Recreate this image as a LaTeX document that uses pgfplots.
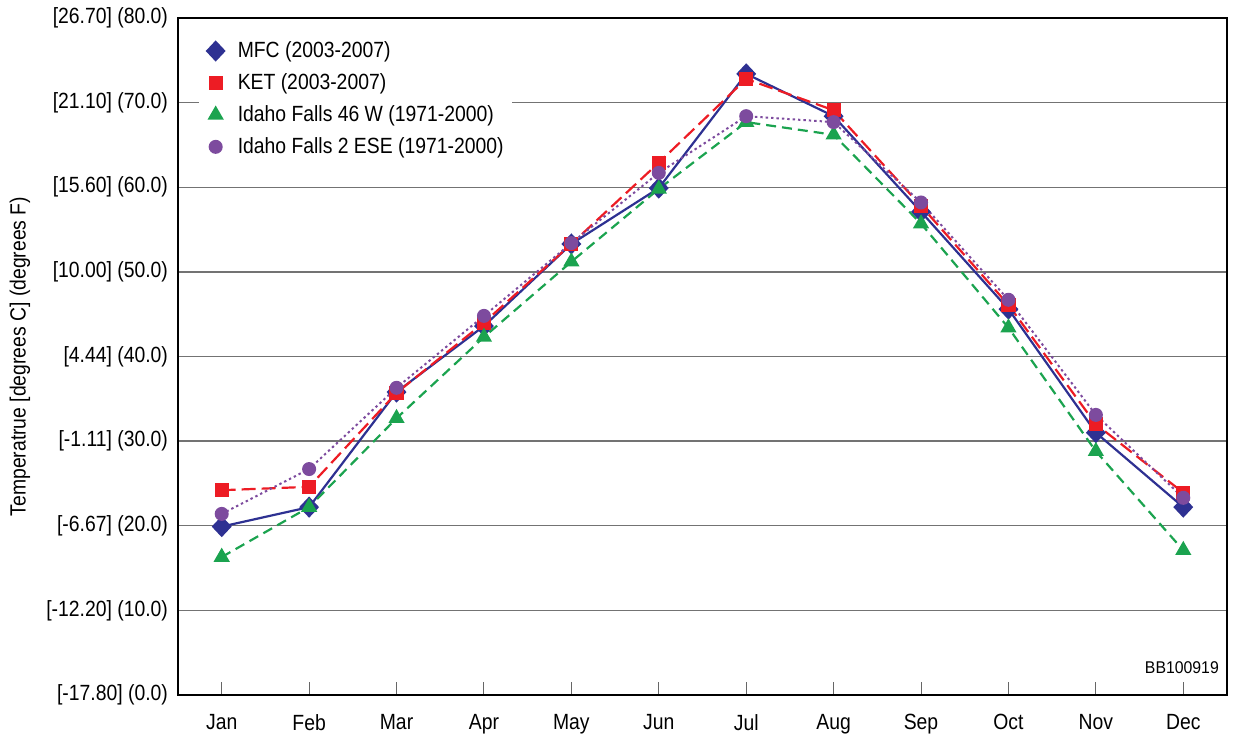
\documentclass[border=0pt]{standalone}
\usepackage{pgfplots}
\pgfplotsset{compat=1.18}
\usepackage{fontspec}
\setmainfont{Liberation Sans}
\definecolor{mfc}{HTML}{2E3192}
\definecolor{ket}{HTML}{ED1C24}
\definecolor{ifw}{HTML}{1BA34F}
\definecolor{ife}{HTML}{7D4B9E}
\newcommand{\lblfont}{\fontsize{11}{13}\selectfont\addfontfeatures{FakeStretch=0.88}}
\pgfplotstableread{
x MFC KET IFW IFE
1 19.9 24.2 16.3 21.4
2 22.2 24.6 22.2 26.7
3 35.8 35.7 32.7 36.3
4 43.6 44.0 42.3 44.8
5 53.3 53.3 51.2 53.4
6 59.9 62.9 59.8 61.7
7 73.4 72.8 67.7 68.4
8 68.4 69.1 66.2 67.7
9 57.1 57.8 55.7 58.2
10 45.6 46.1 43.4 46.7
11 31.0 32.0 28.8 33.1
12 22.2 23.9 17.1 23.3
}\data
\begin{document}
\begin{tikzpicture}
\begin{axis}[
  at={(0,0)}, anchor=south west,
  scale only axis,
  width=524.5pt, height=338.5pt,
  xmin=0.5, xmax=12.5, ymin=0, ymax=80,
  xtick={1,...,12},
  xticklabels={Jan,Feb,Mar,Apr,May,Jun,Jul,Aug,Sep,Oct,Nov,Dec},
  ytick={0,10,...,80},
  yticklabels={{[-17.80] (0.0)},{[-12.20] (10.0)},{[-6.67] (20.0)},{[-1.11] (30.0)},{[4.44] (40.0)},{[10.00] (50.0)},{[15.60] (60.0)},{[21.10] (70.0)},{[26.70] (80.0)}},
  ymajorgrids,
  grid style={black!55, line width=0.7pt},
  axis line style={black, line width=1pt},
  xtick style={black!60, line width=0.5pt},
  xtick pos=bottom, ytick style={draw=none},
  tick align=inside,
  major tick length=6.5pt,
  tick label style={font=\lblfont},
  yticklabel style={xshift=-1.5pt},
  xticklabel style={yshift=-6pt},
  ylabel={Temperatrue [degrees C] (degrees F)},
  ylabel style={font=\lblfont, at={(axis description cs:-0.1506,0.5)}, anchor=center},
  legend style={at={(axis description cs:0.0200,0.9806)}, anchor=north west, draw=none, fill=white,
    font=\lblfont, row sep=2.5pt, inner xsep=2pt, inner ysep=3pt},
  legend cell align=left,
  legend image code/.code={\path (0.2cm-5.6pt,0pt) (0.2cm+8.5pt,0pt); \draw[#1] plot[only marks] coordinates {(0.2cm,0cm)};},
  clip=false,
]
\addplot[mfc, line width=1.1pt, mark=diamond*, mark size=4.5pt, mark options={solid, fill=mfc, xscale=1.25}] table[x=x,y=MFC]{\data};
\addlegendentry{MFC (2003-2007)}
\addplot[ket, line width=1.1pt, dash pattern=on 7pt off 3pt, mark=square*, mark size=3pt, mark options={solid, fill=ket}] table[x=x,y=KET]{\data};
\addlegendentry{KET (2003-2007)}
\addplot[ifw, line width=1.1pt, dash pattern=on 5pt off 3pt, mark=triangle*, mark size=3.6pt, mark options={solid, fill=ifw}] table[x=x,y=IFW]{\data};
\addlegendentry{Idaho Falls 46 W (1971-2000)}
\addplot[ife, line width=1pt, dash pattern=on 1.2pt off 1.5pt, mark=*, mark size=3pt, mark options={solid, fill=ife}] table[x=x,y=IFE]{\data};
\addlegendentry{Idaho Falls 2 ESE (1971-2000)}
\node[anchor=center, font=\fontsize{8.5}{10}\selectfont\addfontfeatures{FakeStretch=0.93}] at (rel axis cs:0.957,0.040) {BB100919};
\end{axis}
\pgfresetboundingbox
\path[use as bounding box] (-89pt,-21.5pt) rectangle (527.5pt,347.5pt);
\end{tikzpicture}
\end{document}
